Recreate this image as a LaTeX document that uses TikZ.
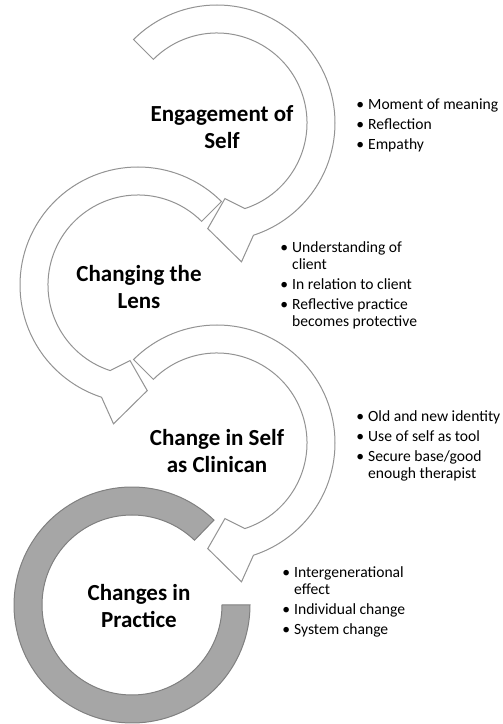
\documentclass[tikz,border=0pt]{standalone}
\usepackage{fontspec}
\setmainfont{Carlito}
\usetikzlibrary{calc}
\tikzstyle{ringarrow} = [draw=gray!85, fill=white, line width=0.5pt]
\tikzstyle{ringfull} = [draw=gray, fill=gray!70, line width=0.5pt]
\tikzstyle{stage} = [align=center, inner sep=0pt, font=\fontsize{11.5}{13.5}\selectfont\bfseries]
\tikzstyle{notes} = [anchor=base west, inner sep=0pt, font=\fontsize{7.8}{8.5}\selectfont]

\begin{document}
\begin{tikzpicture}[x=0.5pt, y=0.5pt]
\useasboundingbox (0,0) rectangle (503,724);

%% Engagement of self
\begin{scope}[shift={(217,601)}]
\draw[ringarrow] (135:118) arc[start angle=135, end angle=-72, radius=118]
    -- (-80:141) -- (-95:106) -- (-84:76) -- (-72:90)
    arc[start angle=-72, end angle=135, radius=90] -- cycle;
\node[stage] (engage) at (5,-4) {Engagement of\\Self};
\end{scope}

%% Changing the lens
\begin{scope}[shift={(138,439)}]
\draw[ringarrow] (45:118) arc[start angle=45, end angle=252, radius=118]
    -- (260:141) -- (275:106) -- (264:76) -- (252:90)
    arc[start angle=252, end angle=45, radius=90] -- cycle;
\node[stage] (lens) at (1,-2) {Changing the\\Lens};
\end{scope}

%% Change in self as clinician
\begin{scope}[shift={(217,281)}]
\draw[ringarrow] (135:118) arc[start angle=135, end angle=-72, radius=118]
    -- (-80:141) -- (-95:106) -- (-84:76) -- (-72:90)
    arc[start angle=-72, end angle=135, radius=90] -- cycle;
\node[stage] (clinican) at (0,-8) {Change in Self\\as Clinican};
\end{scope}

%% Changes in practice
\begin{scope}[shift={(132,119)}]
\draw[ringfull] (46:118) arc[start angle=46, end angle=360, radius=118]
    -- (0:90) arc[start angle=360, end angle=46, radius=90] -- cycle;
\node[stage] (practice) at (7,-1) {Changes in\\Practice};
\end{scope}

%% bullet lists
\node[notes] (engagelist) at (356,614) {%
    \begin{tabular}[t]{@{}l@{\hspace{2pt}}l@{}}
    • & Moment of meaning\\[1.5pt]
    • & Reflection\\[1.5pt]
    • & Empathy
    \end{tabular}};
\node[notes] (lenslist) at (280,471) {%
    \begin{tabular}[t]{@{}l@{\hspace{2pt}}l@{}}
    • & Understanding of\\
      & client\\[1.5pt]
    • & In relation to client\\[1.5pt]
    • & Reflective practice\\
      & becomes protective
    \end{tabular}};
\node[notes] (clinicanlist) at (356,302) {%
    \begin{tabular}[t]{@{}l@{\hspace{2pt}}l@{}}
    • & Old and new identity\\[1.5pt]
    • & Use of self as tool\\[1.5pt]
    • & Secure base/good\\
      & enough therapist
    \end{tabular}};
\node[notes] (practicelist) at (282,146) {%
    \begin{tabular}[t]{@{}l@{\hspace{2pt}}l@{}}
    • & Intergenerational\\
      & effect\\[1.5pt]
    • & Individual change\\[1.5pt]
    • & System change
    \end{tabular}};
\end{tikzpicture}
\end{document}
